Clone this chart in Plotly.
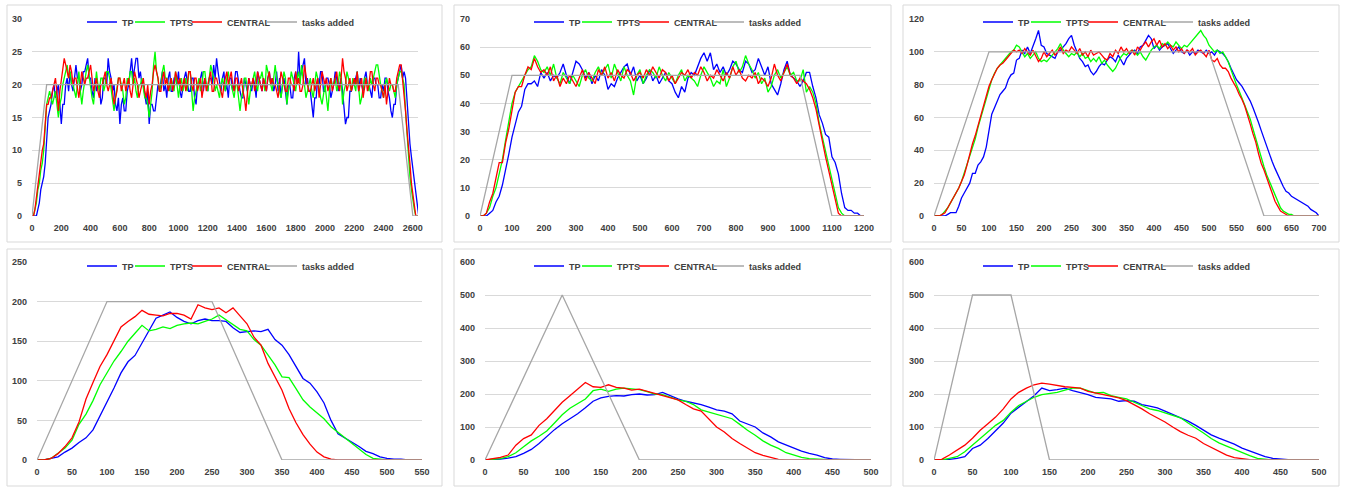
import plotly.graph_objects as go

W, H = 1346, 487

SERIES_NAMES = ["TP", "TPTS", "CENTRAL", "tasks added"]
SERIES_COLORS = ["#0000FF", "#00FF00", "#FF0000", "#A6A6A6"]

# ---------------- Panel 1 (step 10, x = 0..2640) ----------------
p1_step = 10
p1_tp = [0,0,0,0,1,2,4,5,6,8,12,15,16,17,19,20,18,19,20,17,
         14,17,17,20,21,19,22,20,19,21,23,21,21,19,20,22,22,23,24,21,
         21,19,18,21,19,20,20,17,18,21,21,20,24,22,21,19,20,17,16,18,
         14,17,18,16,16,19,20,22,24,21,23,24,24,21,22,20,20,18,17,19,
         14,17,17,16,16,18,20,19,21,22,19,20,18,21,22,19,19,21,21,20,
         22,19,18,20,21,22,20,19,19,21,21,18,17,20,20,21,22,19,21,20,
         19,21,21,20,23,21,24,22,20,19,21,22,19,20,18,21,21,19,20,22,
         22,20,19,18,18,21,20,19,21,20,19,21,20,18,22,21,20,19,21,20,
         19,21,22,20,21,19,20,22,19,21,18,20,21,19,17,20,20,18,18,21,
         22,20,25,21,22,23,24,20,21,19,19,17,15,18,18,21,20,22,22,19,
         19,21,21,20,18,19,20,22,21,19,20,21,19,17,14,15,15,19,19,20,
         20,21,22,19,21,20,19,21,22,20,20,19,18,21,21,20,20,18,18,20,
         19,21,21,19,18,16,15,17,17,20,21,22,23,21,22,21,17,14,11,9,
         7,5,3,1,0]
p1_tpts = [0,0,1,2,4,5,7,8,10,14,17,18,19,18,17,18,19,17,15,17,
           18,20,21,22,23,21,22,20,20,19,18,20,22,19,17,19,21,22,23,21,
           20,18,17,20,22,20,19,21,21,19,20,22,22,21,19,17,16,18,20,21,
           21,20,19,17,18,21,20,22,22,20,21,19,18,20,20,21,19,18,18,17,
           15,17,19,23,25,22,21,19,20,22,23,21,21,20,19,21,20,19,22,20,
           18,20,21,19,20,21,19,22,22,18,16,18,19,20,21,19,20,22,22,20,
           19,21,23,22,21,19,20,19,18,20,21,20,19,21,22,20,20,19,18,20,
           20,18,16,18,19,21,21,19,17,19,20,21,22,20,19,21,21,22,20,19,
           23,22,21,20,19,21,23,21,20,19,18,20,22,21,17,19,20,22,21,20,
           19,21,22,20,23,21,20,18,19,20,21,19,18,20,22,21,19,18,17,19,
           20,18,16,19,21,20,20,21,19,20,22,21,17,19,20,22,21,20,19,21,
           20,19,22,20,17,18,20,21,21,20,19,21,20,21,22,23,23,21,20,19,
           18,20,21,20,19,20,20,19,18,20,21,22,22,21,20,16,12,9,6,4,
           2,1,0,0,0]
p1_central = [0,0,1,3,5,6,8,10,11,14,17,17,18,18,19,20,21,19,16,19,
              21,22,24,23,22,21,23,22,20,21,21,19,18,20,22,21,20,21,21,22,
              23,21,19,20,21,19,18,20,20,21,22,20,19,20,21,19,17,18,19,21,
              21,19,20,21,19,20,21,19,18,20,22,21,20,18,19,20,21,19,18,20,
              17,19,20,22,23,22,21,19,19,21,22,20,21,19,20,21,19,20,22,21,
              20,21,19,20,21,19,20,22,22,20,19,21,21,19,20,21,18,20,21,19,
              20,21,22,19,19,21,21,20,20,19,18,20,21,22,20,21,22,20,19,21,
              21,19,20,21,19,18,16,19,21,20,20,21,19,20,22,21,20,19,21,20,
              19,21,22,20,21,20,20,19,18,20,22,21,20,19,19,21,21,20,20,19,
              22,20,21,19,19,20,23,21,20,19,19,20,21,19,20,21,18,20,22,21,
              20,21,19,20,21,19,20,21,22,20,19,21,24,22,21,19,20,21,19,20,
              21,20,22,19,20,21,18,20,21,19,20,22,22,20,19,21,21,20,20,19,
              18,20,17,19,21,20,20,19,19,21,22,23,23,21,19,16,13,11,8,5,
              3,1,0,0,0]
p1_tasks_x = [0, 100, 2500, 2600, 2640]
p1_tasks_y = [0, 20, 20, 0, 0]

# ---------------- Panel 2 (step 10, x = 0..1200) ----------------
p2_step = 10
p2_tp = [0,0,0,1,2,5,7,11,16,22,
         28,33,37,39,45,47,47,48,46,51,
         49,51,48,50,49,51,54,50,47,51,
         55,54,52,49,51,47,50,48,52,50,
         45,47,46,49,51,53,54,50,53,48,
         50,47,49,52,48,50,47,49,51,48,
         47,44,42,46,44,49,51,50,53,56,
         58,55,58,52,54,51,53,50,52,55,
         54,52,51,55,54,51,52,56,53,50,
         53,47,45,43,47,52,55,50,49,48,
         46,48,51,51,46,42,36,33,29,28,
         21,19,15,8,3,2,2,1,1,0,
         0]
p2_tpts = [0,0,1,3,7,10,15,20,27,33,
           40,44,46,48,50,52,53,57,55,52,
           51,53,50,54,49,47,51,49,47,50,
           48,46,50,52,49,48,51,53,50,52,
           54,49,54,51,48,53,50,48,43,50,
           52,47,50,52,51,49,53,50,48,51,
           49,47,50,52,48,50,49,48,46,50,
           53,51,49,46,48,47,52,46,49,53,
           55,51,53,57,54,52,49,51,47,49,
           44,46,50,52,49,51,53,50,51,48,
           48,52,44,46,44,40,33,28,23,18,
           14,8,3,1,0,0,0,0,0,0,
           0]
p2_central = [0,0,1,5,8,13,19,19,26,31,
              38,44,46,46,50,53,52,56,53,51,
              52,50,53,48,50,46,49,47,50,48,
              46,49,52,48,51,49,47,52,50,53,
              49,51,48,52,50,49,52,51,48,50,
              51,49,52,50,53,51,49,52,51,48,
              50,47,49,51,50,52,49,51,50,53,
              51,48,50,49,52,50,48,51,49,53,
              50,52,49,48,50,49,51,47,49,48,
              46,49,54,50,48,51,54,50,49,47,
              49,48,47,45,42,38,32,26,21,16,
              11,5,1,0,0,0,0,0,0,0,
              0]
p2_tasks_x = [0, 100, 1000, 1100, 1200]
p2_tasks_y = [0, 50, 50, 0, 0]

# ---------------- Panel 3 (step 5, x = 0..700) ----------------
p3_step = 5
p3_tp = [0,0,0,0,0,1,2,2,2,6,
         11,14,17,20,26,26,31,33,36,42,
         52,62,66,70,74,76,78,83,86,87,
         95,96,101,99,103,99,103,108,113,104,
         103,99,98,97,96,100,101,103,105,108,
         110,104,100,96,94,91,92,88,86,88,
         91,93,92,95,97,96,94,98,95,92,
         96,98,100,101,99,103,104,107,110,108,
         102,104,101,103,104,105,102,99,101,103,
         100,99,101,98,100,99,101,100,99,101,
         99,100,98,101,100,99,97,94,90,86,
         83,81,79,76,73,70,66,62,57,52,
         47,43,38,33,29,25,21,18,15,14,
         12,11,10,9,8,7,6,4,3,2,
         0]
p3_tpts = [0,0,0,1,3,5,8,11,14,17,
           21,26,31,37,42,47,54,60,66,72,
           78,83,87,90,92,94,96,98,100,101,
           104,103,100,97,99,96,98,100,96,94,
           95,94,96,98,100,102,105,101,99,97,
           99,98,100,97,99,96,97,94,96,94,
           97,93,95,92,90,88,90,94,97,99,
           98,100,101,100,98,100,97,95,98,101,
           103,104,102,105,104,106,104,103,106,104,
           102,104,103,105,107,109,111,113,110,108,
           104,102,100,101,99,100,97,94,89,84,
           80,76,72,68,64,59,53,47,41,35,
           30,25,21,16,12,8,5,3,2,1,
           1,0,0,0,0,0,0,0,0,0,
           0]
p3_central = [0,0,0,1,2,5,8,11,14,17,
              21,25,31,38,44,49,55,60,66,73,
              79,83,87,90,92,93,95,97,99,101,
              100,101,99,102,100,98,101,97,94,96,
              100,97,99,101,98,100,103,99,101,100,
              103,101,99,102,98,100,97,101,98,99,
              100,98,96,95,99,97,101,99,103,100,
              102,99,101,98,103,101,104,106,103,106,
              108,104,107,103,105,102,104,101,103,100,
              102,99,101,100,102,98,100,101,99,97,
              101,95,94,96,92,90,90,88,84,81,
              78,74,71,67,62,56,50,45,38,32,
              28,23,18,13,9,6,3,2,1,0,
              0,0,0,0,0,0,0,0,0,0,
              0]
p3_tasks_x = [0, 100, 500, 600, 700]
p3_tasks_y = [0, 100, 100, 0, 0]

# ---------------- Panel 4 (step 10, x = 0..550) ----------------
p4_step = 10
p4_tp = [0,0,2,4,10,15,22,28,38,55,
         72,91,110,124,132,148,163,179,183,187,
         180,175,172,176,178,176,176,175,167,161,
         162,163,162,165,152,145,133,118,103,97,
         86,72,50,33,28,22,17,11,8,4,
         2,1,1,0,0,0]
p4_tpts = [0,0,2,8,15,25,45,58,75,95,
           110,125,137,150,160,170,163,165,168,166,
           170,172,173,172,175,178,183,177,170,165,
           163,152,145,132,120,105,104,90,76,67,
           60,52,42,35,29,22,15,7,2,1,
           0,0,0,0,0,0]
p4_central = [0,0,2,8,17,28,48,77,98,118,
              133,150,168,175,181,189,184,183,182,185,
              185,183,178,196,192,190,192,186,192,182,
              172,155,145,122,105,88,65,47,32,20,
              10,4,1,0,0,0,0,0,0,0,
              0,0,0,0,0,0]
p4_tasks_x = [0, 100, 250, 350, 550]
p4_tasks_y = [0, 200, 200, 0, 0]

# ---------------- Panel 5 (step 10, x = 0..500) ----------------
p5_step = 10
p5_tp = [0,1,3,6,10,20,32,50,72,92,
         110,125,140,158,178,188,193,195,194,198,
         200,197,198,205,195,185,178,173,168,160,
         152,148,140,118,110,100,82,70,55,45,
         36,27,20,15,7,3,2,1,1,0,
         0]
p5_tpts = [0,1,4,10,22,40,58,72,88,112,
           137,157,172,185,210,215,208,215,218,215,
           213,207,200,198,190,182,178,168,152,145,
           140,133,125,108,90,75,58,45,35,22,
           15,8,4,2,1,0,0,0,0,0,
           0]
p5_central = [0,3,8,15,45,65,76,105,125,150,
              175,195,215,235,222,220,228,220,218,212,
              215,208,203,195,188,182,168,155,148,125,
              100,85,65,50,35,22,14,7,2,0,
              0,0,0,0,0,0,0,0,0,0,
              0]
p5_tasks_x = [0, 100, 200, 500]
p5_tasks_y = [0, 500, 0, 0]

# ---------------- Panel 6 (step 10, x = 0..500) ----------------
p6_step = 10
p6_tp = [0,0,2,5,10,35,45,65,88,112,
         142,160,178,195,218,210,213,218,210,205,
         198,190,187,185,178,180,178,168,163,158,
         148,138,130,118,105,90,76,66,58,48,
         36,27,18,10,5,2,1,0,0,0,
         0]
p6_tpts = [0,0,5,10,25,45,65,85,105,120,
           145,165,178,190,198,202,205,212,218,218,
           210,203,205,195,190,185,175,165,155,150,
           143,135,128,112,98,82,65,52,42,32,
           22,13,5,2,0,0,0,0,0,0,
           0]
p6_central = [0,2,15,30,45,66,90,110,130,155,
              185,205,218,228,233,230,225,222,220,218,
              208,203,198,192,188,180,168,155,140,128,
              115,100,86,75,66,50,38,25,15,7,
              3,1,0,0,0,0,0,0,0,0,
              0]
p6_tasks_x = [0, 50, 100, 150, 500]
p6_tasks_y = [0, 500, 500, 0, 0]

# ---------------- layout geometry (pixels) ----------------
panels = [
    dict(step=p1_step, series=[p1_tp, p1_tpts, p1_central], tx=p1_tasks_x, ty=p1_tasks_y,
         xr=[0, 2635], xd=200, yr=[0, 30], yd=5,
         px=(32, 418), py=(19, 216), box=(7, 442, 5, 242), legy=22),
    dict(step=p2_step, series=[p2_tp, p2_tpts, p2_central], tx=p2_tasks_x, ty=p2_tasks_y,
         xr=[0, 1222], xd=100, yr=[0, 70], yd=10,
         px=(480, 871), py=(19, 216), box=(454, 891, 5, 242), legy=22),
    dict(step=p3_step, series=[p3_tp, p3_tpts, p3_central], tx=p3_tasks_x, ty=p3_tasks_y,
         xr=[0, 700], xd=50, yr=[0, 120], yd=20,
         px=(934, 1319), py=(19, 216), box=(903, 1339, 5, 242), legy=22),
    dict(step=p4_step, series=[p4_tp, p4_tpts, p4_central], tx=p4_tasks_x, ty=p4_tasks_y,
         xr=[0, 550], xd=50, yr=[0, 250], yd=50,
         px=(37, 422), py=(262, 460), box=(7, 442, 249, 486), legy=266),
    dict(step=p5_step, series=[p5_tp, p5_tpts, p5_central], tx=p5_tasks_x, ty=p5_tasks_y,
         xr=[0, 500], xd=50, yr=[0, 600], yd=100,
         px=(485, 871), py=(262, 460), box=(454, 891, 249, 486), legy=266),
    dict(step=p6_step, series=[p6_tp, p6_tpts, p6_central], tx=p6_tasks_x, ty=p6_tasks_y,
         xr=[0, 500], xd=50, yr=[0, 600], yd=100,
         px=(934, 1319), py=(262, 460), box=(903, 1339, 249, 486), legy=266),
]
# legend label start offsets (px) relative to each panel's left border
LEGEND_TEXT_OFFSETS = [115, 163, 220, 295]

FONT = dict(family="Liberation Sans, Arial, sans-serif", size=9, color="#404040", weight="bold")
GRID = "#D9D9D9"

fig = go.Figure()
layout = dict(
    width=W, height=H,
    margin=dict(l=0, r=0, t=0, b=0, pad=0, autoexpand=False),
    paper_bgcolor="white", plot_bgcolor="white",
    font=FONT,
    shapes=[],
    hovermode=False,
)

legend_count = 0
for i, p in enumerate(panels, start=1):
    sfx = "" if i == 1 else str(i)
    xa, ya = "x" + sfx, "y" + sfx
    bx0, bx1, by0, by1 = p["box"]
    all_series = [(p["series"][s], None) for s in range(3)] + [(p["ty"], p["tx"])]
    for s, (vals, xs) in enumerate(all_series):
        if xs is None:
            xs = [k * p["step"] for k in range(len(vals))]
        legend_count += 1
        leg = "legend" if legend_count == 1 else "legend" + str(legend_count)
        fig.add_trace(go.Scatter(
            x=xs, y=vals, mode="lines", name=SERIES_NAMES[s],
            line=dict(color=SERIES_COLORS[s], width=1.3),
            xaxis=xa, yaxis=ya, legend=leg, showlegend=True,
        ))
        text_x = bx0 + LEGEND_TEXT_OFFSETS[s]
        layout[leg] = dict(
            orientation="h", x=(text_x - 40) / W, y=1 - p["legy"] / H,
            xanchor="left", yanchor="middle",
            xref="paper", yref="paper", bgcolor="rgba(0,0,0,0)", font=FONT,
            itemwidth=30, borderwidth=0,
        )
    x0, x1 = p["px"]
    ytop, ybot = p["py"]
    layout["xaxis" + sfx] = dict(
        domain=[x0 / W, x1 / W], anchor=ya, range=p["xr"], automargin=False,
        tick0=0, dtick=p["xd"], showgrid=False, zeroline=False,
        showline=False, ticks="", tickfont=FONT, ticklabelstandoff=5,
    )
    layout["yaxis" + sfx] = dict(
        domain=[1 - ybot / H, 1 - ytop / H], anchor=xa, range=p["yr"], automargin=False,
        tick0=0, dtick=p["yd"], showgrid=True, gridcolor=GRID, gridwidth=1,
        zeroline=False, showline=False, ticks="", tickfont=FONT,
        ticklabelstandoff=9,
    )
    layout["shapes"].append(dict(
        type="rect", xref="paper", yref="paper",
        x0=bx0 / W, x1=bx1 / W, y0=1 - by1 / H, y1=1 - by0 / H,
        line=dict(color=GRID, width=1), fillcolor="rgba(0,0,0,0)", layer="below",
    ))

fig.update_layout(**layout)
fig.write_html(
    "out.html",
    config={"displayModeBar": False},
    post_script="document.body.style.margin='0';document.body.style.overflow='hidden';",
)
